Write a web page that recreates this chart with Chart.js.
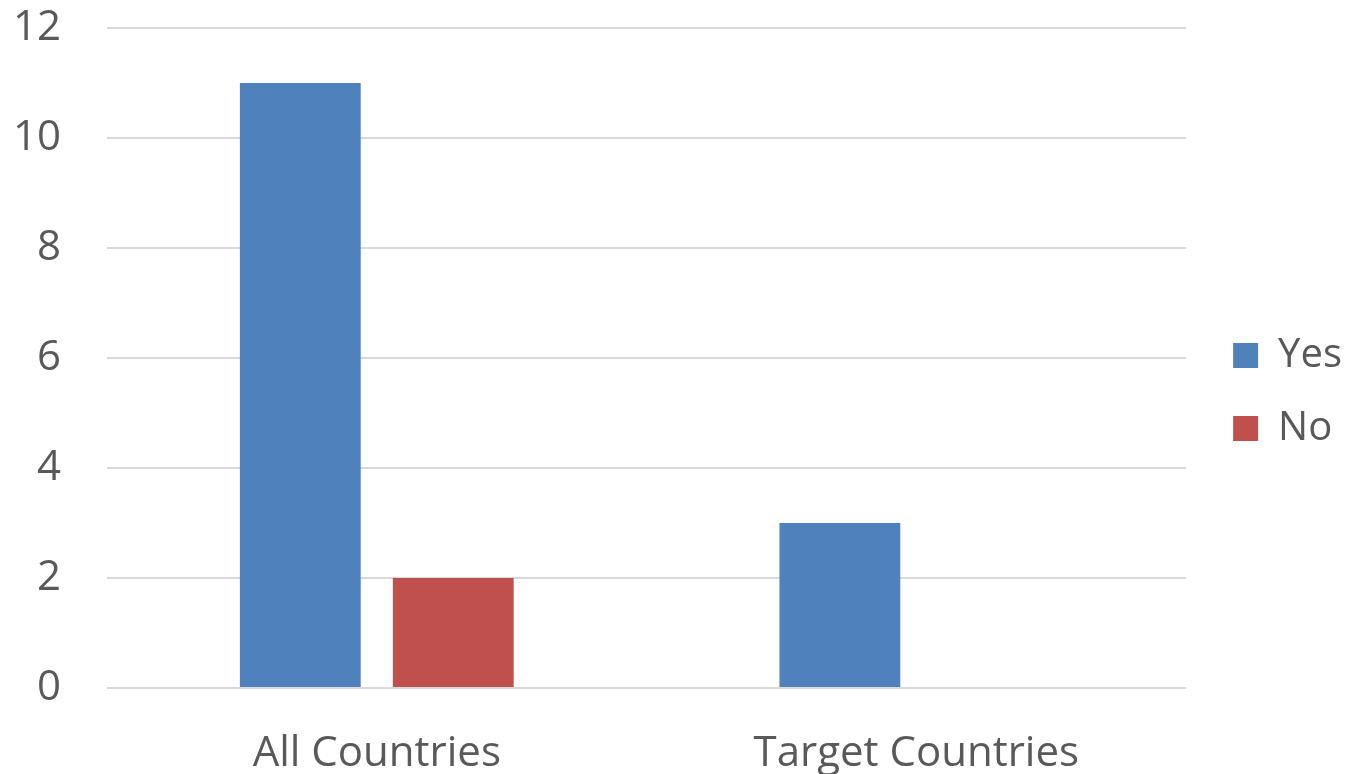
<!DOCTYPE html>
<html>
<head>
<meta charset="utf-8">
<script src="https://cdn.jsdelivr.net/npm/chart.js@4.4.1/dist/chart.umd.min.js"></script>
<style>
  html, body { margin: 0; padding: 0; background: #fff; overflow: hidden; }
  canvas { display: block; }
</style>
</head>
<body>
<canvas id="chart" width="1346" height="774"></canvas>
<script>
const categories = ["All Countries", "Target Countries"];
const yesValues = [11, 3];
const noValues = [2, 0];
const yTicks = [0, 2, 4, 6, 8, 10, 12];

const textColor = "#595959";
const fontFamily = "'Open Sans', 'Noto Sans', sans-serif";

// nudge the legend a bit right and down, like the Office legend
const legendShift = {
  id: "legendShift",
  afterLayout(chart) {
    const l = chart.legend;
    l.left += 14; l.right += 14;
    l.top += 5; l.bottom += 5;
  }
};

const ctx = document.getElementById("chart").getContext("2d");
new Chart(ctx, {
  type: "bar",
  data: {
    labels: categories,
    datasets: [
      { label: "Yes", data: yesValues, backgroundColor: "#4F81BD" },
      { label: "No", data: noValues, backgroundColor: "#C0504D" }
    ]
  },
  options: {
    responsive: false,
    animation: false,
    devicePixelRatio: 1,
    categoryPercentage: 0.567,
    barPercentage: 0.79,
    layout: { padding: { top: 0, right: 8, bottom: 0, left: 0 } },
    scales: {
      x: {
        grid: { display: false },
        border: { display: false },
        ticks: { color: textColor, font: { family: fontFamily, size: 42 }, padding: 33 },
        afterFit: s => { s.height = 86; s.paddingLeft = 0; s.paddingRight = 0; }
      },
      y: {
        min: 0,
        max: 12,
        afterBuildTicks: s => { s.ticks = yTicks.map(v => ({ value: v })); },
        grid: { color: "#d9d9d9", lineWidth: 2, drawTicks: false },
        border: { display: false },
        ticks: { color: textColor, font: { family: fontFamily, size: 42 }, padding: 46 },
        afterFit: s => { s.width = 107; s.paddingTop = 28; s.paddingBottom = 0; }
      }
    },
    plugins: {
      legend: {
        position: "right",
        labels: {
          color: textColor,
          font: { family: fontFamily, size: 40 },
          boxWidth: 25,
          boxHeight: 25,
          padding: 33
        }
      },
      tooltip: { enabled: false }
    }
  },
  plugins: [legendShift]
});
</script>
</body>
</html>
